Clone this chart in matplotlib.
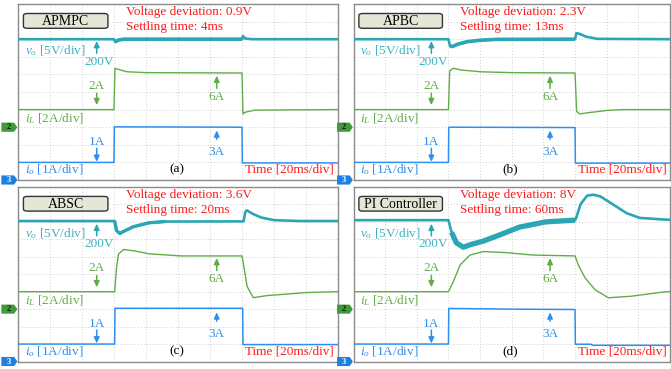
import numpy as np
import matplotlib
matplotlib.use('Agg')
import matplotlib.pyplot as plt
from matplotlib.patches import FancyBboxPatch, Polygon
from matplotlib.transforms import blended_transform_factory

plt.rcParams['font.family'] = 'Liberation Serif'
plt.rcParams['mathtext.fontset'] = 'custom'
plt.rcParams['mathtext.rm'] = 'Liberation Serif'
plt.rcParams['mathtext.it'] = 'Liberation Serif:italic'

# panel texts
titles = ['APMPC', 'APBC', 'ABSC', 'PI Controller']
deviation = ['0.9V', '2.3V', '3.6V', '8V']
settling = ['4ms', '13ms', '20ms', '60ms']
tags = ['(a)', '(b)', '(c)', '(d)']

# traces in scope divisions (time div, vertical div)
a_vo = [(0, 8.0), (3.0, 8.0), (3.04, 7.84), (3.12, 7.94), (3.3, 8.0), (7.0, 8.0),
        (7.03, 8.18), (7.1, 8.04), (7.3, 8.0), (10, 8.0)]
a_il = [(0, 4.0), (3.0, 4.0), (3.03, 6.35), (3.15, 6.28), (3.4, 6.15), (4.0, 6.1),
        (7.0, 6.08), (7.03, 3.75), (7.1, 3.85), (7.4, 3.97), (10, 4.0)]
a_io = [(0, 1.0), (3.0, 1.0), (3.01, 3.02), (7.0, 3.0), (7.01, 0.97), (10, 0.97)]

b_vo = [(0, 8.0), (3.0, 8.0), (3.05, 7.62), (3.12, 7.58), (3.3, 7.72), (3.6, 7.86),
        (4.0, 7.94), (4.5, 7.99), (7.0, 8.0), (7.04, 8.34), (7.15, 8.3), (7.35, 8.14),
        (7.7, 8.02), (10, 8.0)]
b_il = [(0, 4.0), (3.0, 4.0), (3.04, 6.2), (3.15, 6.35), (3.4, 6.25), (4.0, 6.15),
        (5.0, 6.1), (7.0, 6.08), (7.05, 3.9), (7.15, 3.75), (7.4, 3.82), (8.0, 3.95),
        (8.5, 4.0), (10, 4.0)]
b_io = [(0, 1.0), (3.0, 1.0), (3.01, 3.0), (7.0, 2.98), (7.01, 0.96), (10, 0.96)]

c_vo = [(0, 8.05), (3.02, 8.05), (3.08, 7.5), (3.18, 7.34), (3.35, 7.5), (3.6, 7.72),
        (4.1, 7.95), (4.6, 8.02), (7.05, 8.03), (7.1, 8.55), (7.15, 8.66), (7.35, 8.45),
        (7.6, 8.25), (8.0, 8.1), (8.8, 8.05), (10, 8.05)]
c_il = [(0, 4.0), (3.02, 4.0), (3.08, 5.4), (3.14, 6.15), (3.3, 6.42), (3.6, 6.35),
        (4.1, 6.17), (5.1, 6.05), (7.0, 6.05), (7.08, 5.2), (7.16, 4.3), (7.35, 3.66),
        (7.8, 3.78), (8.3, 3.85), (9.0, 3.95), (10, 4.0)]
c_io = [(0, 1.0), (3.02, 1.0), (3.03, 3.05), (7.02, 3.05), (7.03, 0.97), (10, 0.97)]

d_vo = [(0, 8.1), (3.0, 8.1), (3.1, 7.4), (3.25, 6.8), (3.47, 6.55), (3.7, 6.7),
        (4.1, 6.9), (4.6, 7.24), (5.24, 7.7), (6.07, 8.0), (7.0, 8.1), (7.05, 8.3),
        (7.17, 9.0), (7.38, 9.5), (7.58, 9.56), (7.8, 9.46), (8.2, 9.0), (8.63, 8.5),
        (9.04, 8.23), (9.77, 8.14), (10, 8.12)]
d_il = [(0, 4.0), (3.0, 4.0), (3.16, 4.6), (3.37, 5.54), (3.68, 6.1), (4.1, 6.3),
        (4.82, 6.24), (5.66, 6.1), (7.0, 6.05), (7.1, 5.54), (7.32, 4.78), (7.63, 4.12),
        (8.05, 3.65), (8.78, 3.74), (9.82, 3.99), (10, 4.0)]
d_io = [(0, 1.0), (3.0, 1.0), (3.01, 3.04), (5.0, 3.0), (7.0, 2.98), (7.01, 0.99),
        (7.5, 0.99), (7.55, 0.93), (10, 0.93)]

vo_all = [a_vo, b_vo, c_vo, d_vo]
il_all = [a_il, b_il, c_il, d_il]
io_all = [a_io, b_io, c_io, d_io]
heavy_lw = [2.6, 2.6, 2.4, 3.8]   # thicker trace under heavy load (ripple)
ch2_gnd = 3.0
ch3_gnd = 0.0

c_vo_line = '#2ba6b5'
c_vo_txt = '#3db3c0'
c_il = '#5fad48'
c_io = '#2f8ff0'
c_red = '#ff1a1a'

W, H = 671, 369
fig = plt.figure(figsize=(W / 100, H / 100), dpi=100)

# axes boxes in pixels: left, top, right, bottom
boxes = [(18, 4, 338, 180), (353.5, 4, 670, 180),
         (18, 187, 338, 361.5), (353.5, 187, 670, 361.5)]

for k, (l, t, r, b) in enumerate(boxes):
    ax = fig.add_axes([l / W, 1 - b / H, (r - l) / W, (b - t) / H])
    ax.set_xlim(0, 10)
    ax.set_ylim(0, 10)
    ax.set_xticks(range(11))
    ax.set_yticks(range(11))
    ax.tick_params(length=0, labelbottom=False, labelleft=False)
    ax.grid(True, color='#cfcfcf', linestyle=(0, (1, 2)), linewidth=0.7)
    for s in ax.spines.values():
        s.set_color('#8a8a8a')
        s.set_linewidth(1.0)

    vo = np.array(vo_all[k])
    il = np.array(il_all[k])
    io = np.array(io_all[k])
    ax.plot(vo[:, 0], vo[:, 1], color=c_vo_line, lw=1.9, solid_capstyle='butt', zorder=3)
    m = (vo[:, 0] > 3.0) & (vo[:, 0] <= 7.0)
    ax.plot(vo[m, 0], vo[m, 1], color=c_vo_line, lw=heavy_lw[k], solid_capstyle='butt', zorder=3)
    ax.plot(il[:, 0], il[:, 1], color=c_il, lw=1.0, zorder=3)
    ax.plot(io[:, 0], io[:, 1], color=c_io, lw=1.1, zorder=3)

    # title box
    ax.add_patch(FancyBboxPatch((0.17, 8.62), 2.64, 0.84,
                                boxstyle='round,pad=0,rounding_size=0.12',
                                fc='#e3e8d6', ec='#333333', lw=1.0, zorder=4))
    ax.text(1.49, 9.02, titles[k], fontsize=10, ha='center', va='center', zorder=5)

    ax.text(3.38, 9.55, 'Voltage deviation: ' + deviation[k], color=c_red,
            fontsize=9.5, va='center')
    ax.text(3.38, 8.68, 'Settling time: ' + settling[k], color=c_red,
            fontsize=9.5, va='center')

    ax.text(0.22, 7.33, '$v_o$ [5V/div]', color=c_vo_txt, fontsize=9.5, va='center')
    ax.text(0.22, 3.5, '$i_L$ [2A/div]', color=c_il, fontsize=9.5, va='center')
    ax.text(0.22, 0.57, '$i_o$ [1A/div]', color=c_io, fontsize=9.5, va='center')

    ax.text(2.53, 6.72, '200V', color=c_vo_txt, fontsize=9.5, ha='center', va='center')
    ax.text(2.46, 5.36, '2A', color=c_il, fontsize=9.5, ha='center', va='center')
    ax.text(6.21, 4.72, '6A', color=c_il, fontsize=9.5, ha='center', va='center')
    ax.text(2.46, 2.16, '1A', color=c_io, fontsize=9.5, ha='center', va='center')
    ax.text(6.21, 1.59, '3A', color=c_io, fontsize=9.5, ha='center', va='center')

    arr = dict(arrowstyle='-|>,head_length=0.35,head_width=0.16', lw=1.1, shrinkA=0, shrinkB=0)
    ax.annotate('', xy=(2.46, 7.9), xytext=(2.46, 7.2), arrowprops=dict(arr, color=c_vo_line))
    ax.annotate('', xy=(2.46, 4.25), xytext=(2.46, 4.93), arrowprops=dict(arr, color=c_il))
    ax.annotate('', xy=(6.21, 5.93), xytext=(6.21, 5.21), arrowprops=dict(arr, color=c_il))
    ax.annotate('', xy=(2.46, 1.03), xytext=(2.46, 1.8), arrowprops=dict(arr, color=c_io))
    ax.annotate('', xy=(6.21, 2.82), xytext=(6.21, 2.31), arrowprops=dict(arr, color=c_io))

    ax.text(4.96, 0.6, tags[k], fontsize=9.5, ha='center', va='center')
    ax.text(7.09, 0.6, 'Time [20ms/div]', color=c_red, fontsize=9.5, va='center')

    # channel ground markers
    tr = blended_transform_factory(ax.transAxes, ax.transData)
    for gnd, col, lab, tc in [(ch2_gnd, '#3f9a3a', '2', '#1a1a1a'), (ch3_gnd, '#1f7fe0', '3', 'white')]:
        ax.add_patch(Polygon([(-0.052, gnd - 0.26), (-0.012, gnd - 0.26), (-0.002, gnd),
                              (-0.012, gnd + 0.26), (-0.052, gnd + 0.26)],
                             closed=True, transform=tr, fc=col, ec='none', clip_on=False, zorder=6))
        ax.text(-0.03, gnd, lab, transform=tr, fontsize=6, fontweight='bold', color=tc,
                ha='center', va='center', clip_on=False, zorder=7)

fig.savefig('out.png', dpi=100)
